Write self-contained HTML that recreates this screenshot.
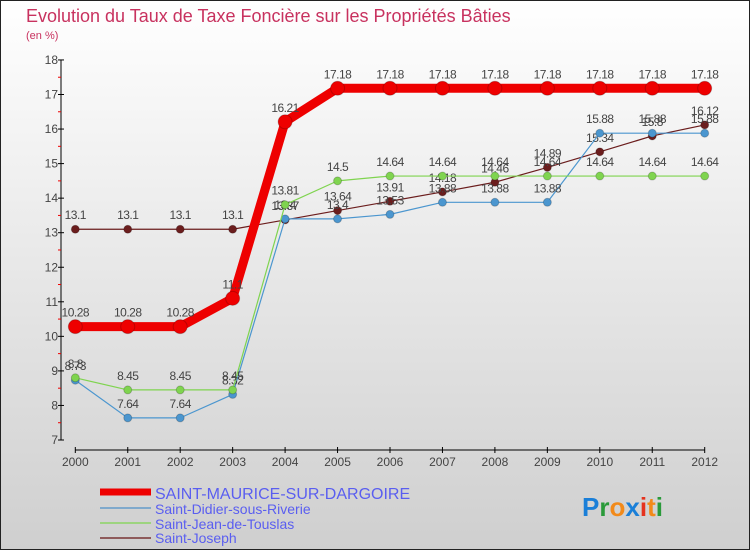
<!DOCTYPE html>
<html><head><meta charset="utf-8"><style>
body{margin:0;width:750px;height:550px;overflow:hidden;font-family:"Liberation Sans",sans-serif}
svg text{font-family:"Liberation Sans",sans-serif}
</style></head><body>
<svg id="c" width="750" height="550" xmlns="http://www.w3.org/2000/svg">
<defs><linearGradient id="bg" x1="0" y1="0" x2="0" y2="1"><stop offset="0" stop-color="#ffffff"/><stop offset="1" stop-color="#cfcfcf"/></linearGradient></defs>
<rect x="0.5" y="0.5" width="749" height="549" fill="url(#bg)" stroke="#222"/>
<text x="26" y="22" font-size="18" fill="#c8325f">Evolution du Taux de Taxe Foncière sur les Propriétés Bâties</text>
<text x="26" y="39" font-size="11" fill="#c8325f">(en %)</text>
<g id="axes"></g><g id="series"></g>
<g>
<line x1="100" y1="492" x2="151" y2="492" stroke="#ee0000" stroke-width="7"/>
<text x="155" y="499" font-size="16" fill="#5a5ef0">SAINT-MAURICE-SUR-DARGOIRE</text>
<line x1="100" y1="508" x2="151" y2="508" stroke="#7fa9cc" stroke-width="2"/>
<text x="155" y="514" font-size="14" fill="#5a5ef0">Saint-Didier-sous-Riverie</text>
<line x1="100" y1="523" x2="151" y2="523" stroke="#9dd47f" stroke-width="2"/>
<text x="155" y="529" font-size="14" fill="#5a5ef0">Saint-Jean-de-Touslas</text>
<line x1="100" y1="538" x2="151" y2="538" stroke="#8e5a5a" stroke-width="2"/>
<text x="155" y="543" font-size="14" fill="#5a5ef0">Saint-Joseph</text>
</g>
<text x="582" y="516" font-size="26" font-weight="bold"><tspan fill="#1a7fd8">P</tspan><tspan fill="#2a9a3a">r</tspan><tspan fill="#f28a1a">o</tspan><tspan fill="#1a7fd8">x</tspan><tspan fill="#e5321e">i</tspan><tspan fill="#f28a1a">t</tspan><tspan fill="#2a9a3a">i</tspan></text>
</svg>
<script>
const years=[2000,2001,2002,2003,2004,2005,2006,2007,2008,2009,2010,2011,2012];
const yTicks=[7,8,9,10,11,12,13,14,15,16,17,18];
const maurice=[10.28,10.28,10.28,11.1,16.21,17.18,17.18,17.18,17.18,17.18,17.18,17.18,17.18];
const didier=[8.73,7.64,7.64,8.32,13.4,13.4,13.53,13.88,13.88,13.88,15.88,15.88,15.88];
const jean=[8.8,8.45,8.45,8.45,13.81,14.5,14.64,14.64,14.64,14.64,14.64,14.64,14.64];
const joseph=[13.1,13.1,13.1,13.1,13.37,13.64,13.91,14.18,14.46,14.89,15.34,15.8,16.12];
const NS='http://www.w3.org/2000/svg';
const X=i=>75.3+i*52.45, Y=v=>440-(v-7)*34.55;
function mk(t,a,p){const e=document.createElementNS(NS,t);for(const k in a)e.setAttribute(k,a[k]);p.appendChild(e);return e;}
const ax=document.getElementById('axes');
const yl=mk('line',{x1:61,y1:Y(18),x2:61,y2:Y(7),stroke:'#000'},ax);


const xl=mk('line',{x1:X(0),y1:450,x2:X(12),y2:450,stroke:'#000'},ax);


yTicks.forEach(v=>{
 mk('line',{x1:58,y1:Y(v),x2:64,y2:Y(v),stroke:'#000'},ax);
 if(v<18)mk('line',{x1:58,y1:Y(v+0.5),x2:61,y2:Y(v+0.5),stroke:'#e00'},ax);
 const t=mk('text',{x:58,y:Y(v)+4,'font-size':12,'text-anchor':'end',fill:'#444'},ax);t.textContent=v;
 
 
});
years.forEach((y,i)=>{
 mk('line',{x1:X(i),y1:447,x2:X(i),y2:453,stroke:'#000'},ax);
 const t=mk('text',{x:X(i),y:466,'font-size':12,'text-anchor':'middle',fill:'#444'},ax);t.textContent=y;
 
 
});
const sg=document.getElementById('series');
function series(d,col,w,r,name){
 const g=mk('g',{},sg);
 
 
 mk('polyline',{points:d.map((v,i)=>X(i)+','+Y(v)).join(' '),fill:'none',stroke:col,'stroke-width':w,'stroke-linejoin':'round'},g);
 d.forEach((v,i)=>{
  const c=mk('circle',{cx:X(i),cy:Y(v),r:r,fill:col,stroke:'rgba(0,0,0,0.2)'},g);
  
  
  const t=mk('text',{x:X(i),y:Y(v)-10,'font-size':12,'text-anchor':'middle',fill:'#444','letter-spacing':'-0.5'},g);t.textContent=v;
  
  
 });
}
series(joseph,'#6b1d1d',1.2,4,'saint-joseph');
series(didier,'#4b96cf',1.2,4,'saint-didier');
series(jean,'#7fd44f',1.2,4,'saint-jean');
series(maurice,'#ee0000',9,7,'saint-maurice');
</script>
</body></html>
